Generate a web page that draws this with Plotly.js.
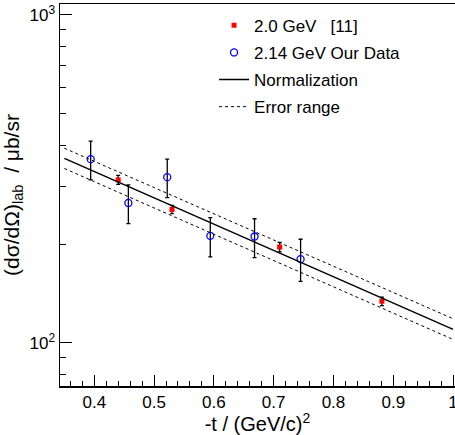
<!DOCTYPE html>
<html>
<head>
<meta charset="utf-8">
<script src="https://cdn.plot.ly/plotly-3.0.1.min.js"></script>
<style>html,body{margin:0;padding:0;background:#fff}#chart{width:455px;height:435px}</style>
</head>
<body>
<div id="chart"></div>
<script>
// Reference data 2.0 GeV [11]
const refT = [0.44, 0.530, 0.710, 0.881];
const refY = [314, 255, 196, 134];
const refErr = [10, 7.5, 6.5, 4];
// Our data 2.14 GeV
const ourT = [0.394, 0.457, 0.522, 0.594, 0.668, 0.745];
const ourY = [363, 267, 320, 212, 211, 180];
const ourErrPlus = [49, 36, 43, 29, 28, 27];
const ourErrMinus = [49, 36, 43, 29, 29, 26];
// Normalization line and error range
const normT = [0.35, 1.0];
const normY = [365, 110];
const upperY = [392, 118.5];
const lowerY = [340, 102.5];
// Tick labels
const xTickVals = [0.4, 0.5, 0.6, 0.7, 0.8, 0.9, 1.0];
const xTickText = ["0.4", "0.5", "0.6", "0.7", "0.8", "0.9", "1"];
const yTickVals = [100, 1000];
const yTickText = ["10<sup>2</sup>", "10<sup>3</sup>"];
const yMinorVals = [80, 90, 200, 300, 400, 500, 600, 700, 800, 900];

const FONT = "Liberation Sans, Arial, Helvetica, sans-serif";

const traces = [
  {
    x: refT, y: refY, type: "scatter", mode: "markers", name: "2.0 GeV   [11]",
    legendgroup: "a",
    marker: {symbol: "square", size: 5, color: "#ff0000"},
    error_y: {type: "data", array: refErr, visible: true, color: "#000", thickness: 1.2, width: 2}
  },
  {
    x: ourT, y: ourY, type: "scatter", mode: "markers", name: "2.14 GeV Our Data",
    legendgroup: "b",
    marker: {symbol: "circle-open", size: 7, color: "#0000ff", line: {width: 1.3, color: "#0000ff"}},
    error_y: {type: "data", symmetric: false, array: ourErrPlus, arrayminus: ourErrMinus, visible: true, color: "#000", thickness: 1.3, width: 2}
  },
  {
    x: normT, y: normY, type: "scatter", mode: "lines", name: "Normalization",
    legendgroup: "c",
    line: {color: "#000", width: 1.5}
  },
  {
    x: normT, y: upperY, type: "scatter", mode: "lines", name: "Error range",
    legendgroup: "d",
    line: {color: "#000", width: 1, dash: "3px,3px"}
  },
  {
    x: normT, y: lowerY, type: "scatter", mode: "lines", name: "Error range lower",
    legendgroup: "d", showlegend: false,
    line: {color: "#000", width: 1, dash: "3px,3px"}
  }
];

const layout = {
  width: 455, height: 435,
  margin: {l: 60, r: 0, t: 4, b: 49},
  paper_bgcolor: "#fff", plot_bgcolor: "#fff",
  font: {family: FONT, size: 17, color: "#000"},
  showlegend: true,
  legend: {
    x: 0.39, y: 0.99, xanchor: "left", yanchor: "top",
    bgcolor: "rgba(255,255,255,0)", borderwidth: 0,
    font: {family: FONT, size: 17, color: "#000"},
    tracegroupgap: 2,
    traceorder: "grouped"
  },
  xaxis: {
    type: "linear", range: [0.3427, 1.0032],
    showline: true, linecolor: "#000", linewidth: 1.5, mirror: true,
    showgrid: false, zeroline: false,
    ticks: "inside", ticklen: 11, tickwidth: 1, tickcolor: "#000",
    tickmode: "array", tickvals: xTickVals, ticktext: xTickText,
    tickfont: {family: FONT, size: 17},
    ticklabeloverflow: "allow",
    minor: {ticks: "inside", ticklen: 5, tickwidth: 1, tickcolor: "#000", dtick: 0.02, tick0: 0.4, showgrid: false},
    title: {text: "-t / (GeV/c)<sup>2</sup>", font: {family: FONT, size: 20}, standoff: 2}
  },
  yaxis: {
    type: "log", range: [1.8688, 3.0327],
    showline: true, linecolor: "#000", linewidth: 1.5,
    showgrid: false, zeroline: false,
    ticks: "inside", ticklen: 12, tickwidth: 1, tickcolor: "#000",
    tickmode: "array", tickvals: yTickVals, ticktext: yTickText,
    tickfont: {family: FONT, size: 17},
    ticklabelstandoff: 0,
    minor: {ticks: "inside", ticklen: 6, tickwidth: 1, tickcolor: "#000", tickmode: "array", tickvals: yMinorVals, showgrid: false},
    title: {text: "(d\u03c3/d\u03a9)<sub>lab</sub>\u00a0 / \u03bcb/sr", font: {family: FONT, size: 21}, standoff: 4}
  }
};

Plotly.newPlot("chart", traces, layout, {displayModeBar: false, staticPlot: true});
</script>
</body>
</html>
